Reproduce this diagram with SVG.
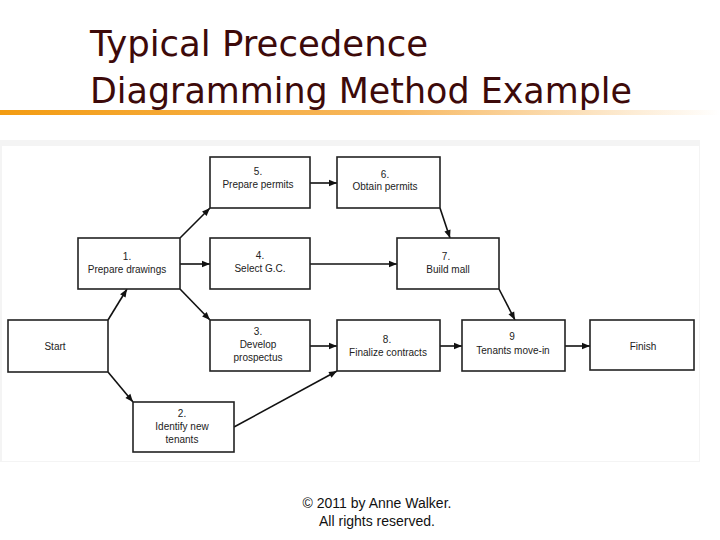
<svg xmlns="http://www.w3.org/2000/svg" width="720" height="540" viewBox="0 0 720 540">
<defs>
<linearGradient id="og" x1="0" x2="1" y1="0" y2="0"><stop offset="0" stop-color="#f39c12"/><stop offset="0.55" stop-color="#f7b860"/><stop offset="1" stop-color="#ffffff"/></linearGradient>
<marker id="ah" viewBox="0 0 10 10" refX="10" refY="5" markerWidth="7" markerHeight="5" orient="auto"><path d="M0,1 L10,5 L0,9 z" fill="#111"/></marker>
<style>
.b{fill:#fff;stroke:#222;stroke-width:1.6}
.t{font-family:"Liberation Sans",Arial,sans-serif;font-size:10px;fill:#222;text-anchor:middle}
.c line{stroke:#111;stroke-width:1.6;marker-end:url(#ah)}
.h{font-family:"DejaVu Sans","Liberation Sans",sans-serif;font-size:36px;fill:#3d0a0a}
</style>
</defs>
<rect width="720" height="540" fill="#fff"/>
<text class="h" x="90" y="56" textLength="338" lengthAdjust="spacingAndGlyphs">Typical Precedence</text>
<text class="h" x="90" y="103" textLength="542" lengthAdjust="spacingAndGlyphs">Diagramming Method Example</text>
<rect x="0" y="110" width="720" height="5" fill="url(#og)"/>
<rect x="0" y="140" width="700" height="322" fill="#f4f4f4"/>
<rect x="2" y="146" width="697" height="315" fill="#fff"/>
<g class="c">
<line x1="108" y1="320" x2="127" y2="289"/>
<line x1="108" y1="372" x2="133" y2="402"/>
<line x1="180" y1="238" x2="210" y2="208"/>
<line x1="180" y1="264" x2="210" y2="264"/>
<line x1="180" y1="289" x2="210" y2="320"/>
<line x1="310" y1="183" x2="337" y2="183"/>
<line x1="310" y1="264" x2="397" y2="264"/>
<line x1="310" y1="346" x2="337" y2="346"/>
<line x1="234" y1="427" x2="337" y2="371"/>
<line x1="440" y1="208" x2="450" y2="238"/>
<line x1="499" y1="289" x2="515" y2="320"/>
<line x1="440" y1="346" x2="462" y2="346"/>
<line x1="565" y1="346" x2="590" y2="346"/>
</g>
<g id="start"><rect class="b" x="8" y="320" width="100" height="52"/><text class="t" x="55" y="350">Start</text></g>
<g id="n1"><rect class="b" x="78" y="238" width="102" height="51"/><text class="t" x="127" y="260">1.</text><text class="t" x="127" y="273">Prepare drawings</text></g>
<g id="n5"><rect class="b" x="210" y="157" width="100" height="51"/><text class="t" x="258" y="175">5.</text><text class="t" x="258" y="188">Prepare permits</text></g>
<g id="n4"><rect class="b" x="210" y="238" width="100" height="51"/><text class="t" x="260" y="259">4.</text><text class="t" x="260" y="272">Select  G.C.</text></g>
<g id="n3"><rect class="b" x="210" y="320" width="100" height="51"/><text class="t" x="258" y="335">3.</text><text class="t" x="258" y="348">Develop</text><text class="t" x="258" y="361">prospectus</text></g>
<g id="n2"><rect class="b" x="133" y="402" width="101" height="50"/><text class="t" x="182" y="417">2.</text><text class="t" x="182" y="430">Identify new</text><text class="t" x="182" y="443">tenants</text></g>
<g id="n6"><rect class="b" x="337" y="157" width="103" height="51"/><text class="t" x="385" y="178">6.</text><text class="t" x="385" y="190">Obtain permits</text></g>
<g id="n7"><rect class="b" x="397" y="238" width="102" height="51"/><text class="t" x="446" y="260">7.</text><text class="t" x="448" y="273">Build mall</text></g>
<g id="n8"><rect class="b" x="337" y="320" width="103" height="51"/><text class="t" x="387" y="343">8.</text><text class="t" x="388" y="356">Finalize contracts</text></g>
<g id="n9"><rect class="b" x="462" y="320" width="103" height="51"/><text class="t" x="512" y="340">9</text><text class="t" x="513" y="354">Tenants move-in</text></g>
<g id="finish"><rect class="b" x="590" y="320" width="104" height="50"/><text class="t" x="643" y="350">Finish</text></g>
<text x="377" y="508" font-family="Liberation Sans,Arial,sans-serif" font-size="14" fill="#111" text-anchor="middle">© 2011 by Anne Walker.</text>
<text x="377" y="526" font-family="Liberation Sans,Arial,sans-serif" font-size="14" fill="#111" text-anchor="middle">All rights reserved.</text>
</svg>
